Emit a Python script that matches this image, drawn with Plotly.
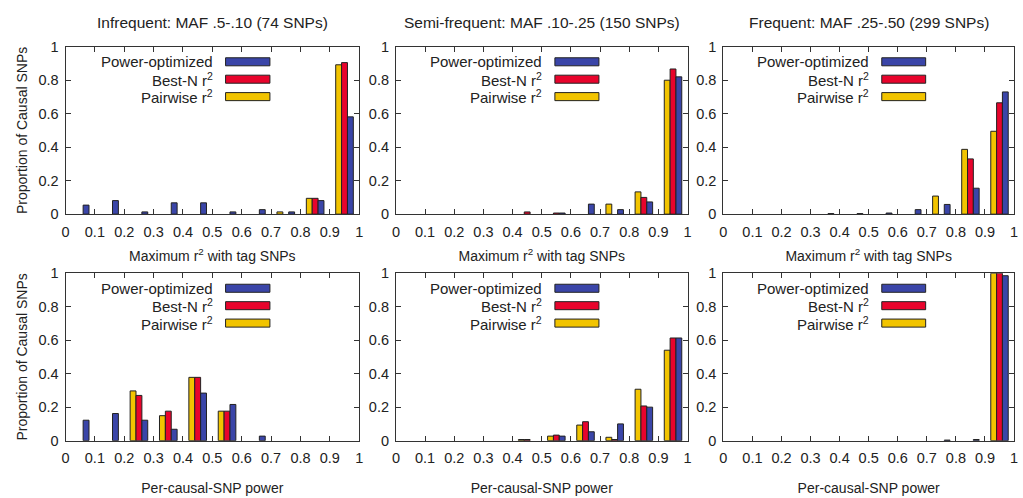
import plotly.graph_objects as go

# ---------------- data ----------------
bin_centers = [0.05, 0.15, 0.25, 0.35, 0.45, 0.55, 0.65, 0.75, 0.85, 0.95]
x_tick_vals = [0, 0.1, 0.2, 0.3, 0.4, 0.5, 0.6, 0.7, 0.8, 0.9, 1.0]
x_tick_text = ["0", "0.1", "0.2", "0.3", "0.4", "0.5", "0.6", "0.7", "0.8", "0.9", "1"]
y_tick_vals = [0, 0.2, 0.4, 0.6, 0.8, 1.0]
y_tick_text = ["0", "0.2", "0.4", "0.6", "0.8", "1"]

col_titles = ["Infrequent: MAF .5-.10 (74 SNPs)",
              "Semi-frequent: MAF .10-.25 (150 SNPs)",
              "Frequent: MAF .25-.50 (299 SNPs)"]
row_xtitles = ["Maximum r<sup>2</sup> with tag SNPs", "Per-causal-SNP power"]
y_title = "Proportion of Causal SNPs"
series_names = ["Pairwise r<sup>2</sup>", "Best-N r<sup>2</sup>", "Power-optimized"]

# Top row: maximum r^2 with tag SNPs
pairwise_top_inf = [0, 0, 0, 0, 0, 0, 0, 0.0135, 0.0946, 0.892]
bestn_top_inf = [0, 0, 0, 0, 0, 0, 0, 0, 0.0946, 0.905]
power_top_inf = [0.054, 0.081, 0.0135, 0.0676, 0.0676, 0.0135, 0.027, 0.0135, 0.081, 0.581]

pairwise_top_semi = [0, 0, 0, 0, 0, 0, 0, 0.06, 0.133, 0.80]
bestn_top_semi = [0, 0, 0, 0, 0.0133, 0.0067, 0, 0, 0.10, 0.867]
power_top_semi = [0, 0, 0, 0, 0, 0.0067, 0.06, 0.027, 0.073, 0.82]

pairwise_top_freq = [0, 0, 0, 0, 0, 0, 0, 0.108, 0.387, 0.495]
bestn_top_freq = [0, 0, 0, 0, 0, 0, 0, 0, 0.33, 0.665]
power_top_freq = [0, 0, 0, 0.0033, 0.0033, 0.0067, 0.027, 0.058, 0.155, 0.73]

# Bottom row: per-causal-SNP power
pairwise_bot_inf = [0, 0, 0.297, 0.149, 0.378, 0.176, 0, 0, 0, 0]
bestn_bot_inf = [0, 0, 0.27, 0.176, 0.378, 0.176, 0, 0, 0, 0]
power_bot_inf = [0.122, 0.162, 0.122, 0.068, 0.284, 0.216, 0.027, 0, 0, 0]

pairwise_bot_semi = [0, 0, 0, 0, 0.0067, 0.027, 0.093, 0.02, 0.307, 0.54]
bestn_bot_semi = [0, 0, 0, 0, 0.0067, 0.033, 0.113, 0.0067, 0.207, 0.613]
power_bot_semi = [0, 0, 0, 0, 0, 0.027, 0.053, 0.10, 0.20, 0.613]

pairwise_bot_freq = [0, 0, 0, 0, 0, 0, 0, 0, 0, 1.0]
bestn_bot_freq = [0, 0, 0, 0, 0, 0, 0, 0, 0, 1.0]
power_bot_freq = [0, 0, 0, 0, 0, 0, 0, 0.0033, 0.0067, 0.985]

panels = [
    [pairwise_top_inf, bestn_top_inf, power_top_inf],
    [pairwise_top_semi, bestn_top_semi, power_top_semi],
    [pairwise_top_freq, bestn_top_freq, power_top_freq],
    [pairwise_bot_inf, bestn_bot_inf, power_bot_inf],
    [pairwise_bot_semi, bestn_bot_semi, power_bot_semi],
    [pairwise_bot_freq, bestn_bot_freq, power_bot_freq],
]

# ---------------- style ----------------
W, H = 1023, 498
colors = ["#f2c400", "#e8042c", "#3a45a8"]   # pairwise, best-N, power-optimized
edge = "#222222"
axis_col = "#333333"
font_main = "Liberation Sans, Arial, Helvetica, sans-serif"
txt_col = "#222222"

col_px = [(62, 358), (395, 689), (725, 1018)]
row_px = [(40, 213), (274, 447)]
xtitle_standoff = [12, 18]

fig = go.Figure()
layout = dict(
    width=W, height=H,
    margin=dict(l=0, r=0, t=0, b=0),
    paper_bgcolor="white", plot_bgcolor="white",
    barmode="group", bargap=0.4, bargroupgap=0,
    showlegend=False,
    font=dict(family=font_main, size=14, color=txt_col),
)
annotations = []
shapes = []

for idx, series in enumerate(panels):
    r, c = divmod(idx, 3)
    n = idx + 1
    xa = "x" if n == 1 else f"x{n}"
    ya = "y" if n == 1 else f"y{n}"
    for k in range(3):
        vals = series[k]
        fig.add_trace(go.Bar(
            x=bin_centers, y=vals, name=series_names[k],
            marker=dict(color=colors[k],
                        line=dict(color=edge, width=[1 if v > 0 else 0 for v in vals])),
            xaxis=xa, yaxis=ya, offsetgroup=str(k),
        ))
    x0, x1 = col_px[c]
    y0, y1 = row_px[r]
    xdom = [x0 / W, x1 / W]
    ydom = [1 - y1 / H, 1 - y0 / H]
    xkey = "xaxis" if n == 1 else f"xaxis{n}"
    ykey = "yaxis" if n == 1 else f"yaxis{n}"
    layout[xkey] = dict(
        domain=xdom, anchor=ya, range=[0, 1],
        tickvals=x_tick_vals, ticktext=x_tick_text,
        ticks="inside", ticklen=5, tickcolor=axis_col, mirror="allticks",
        showline=True, linecolor=axis_col, linewidth=1,
        showgrid=False, zeroline=False, ticklabelstandoff=4,
        tickfont=dict(size=14.5, color=txt_col),
        title=dict(text=row_xtitles[r], font=dict(size=14, color=txt_col),
                   standoff=xtitle_standoff[r]),
    )
    layout[ykey] = dict(
        domain=ydom, anchor=xa, range=[0, 1],
        tickvals=y_tick_vals, ticktext=y_tick_text,
        ticks="inside", ticklen=5, tickcolor=axis_col, mirror="allticks",
        showline=True, linecolor=axis_col, linewidth=1,
        showgrid=False, zeroline=False, ticklabelstandoff=3,
        tickfont=dict(size=14.5, color=txt_col),
        title=dict(text=y_title if c == 0 else "", font=dict(size=14, color=txt_col), standoff=7),
    )
    # legend drawn inside each panel (text right-aligned, then swatch)
    xr = f"{xa} domain"
    yr = f"{ya} domain"
    legend_rows_y = [0.91, 0.806, 0.702]
    order = [2, 1, 0]
    for j, k in enumerate(order):
        yc = legend_rows_y[j]
        annotations.append(dict(
            x=0.508, y=yc, xref=xr, yref=yr, xanchor="right", yanchor="middle",
            text=series_names[k], showarrow=False,
            font=dict(size=15, color=txt_col, family=font_main),
        ))
        shapes.append(dict(
            type="rect", xref=xr, yref=yr,
            x0=0.545, x1=0.696, y0=yc - 0.024, y1=yc + 0.024,
            fillcolor=colors[k], line=dict(color=edge, width=1),
        ))
    if r == 0:
        annotations.append(dict(
            x=(xdom[0] + xdom[1]) / 2, y=1 - 15 / H, xref="paper", yref="paper",
            xanchor="center", yanchor="middle", text=col_titles[c], showarrow=False,
            font=dict(size=15.5, color=txt_col, family=font_main),
        ))

layout["annotations"] = annotations
layout["shapes"] = shapes
fig.update_layout(**layout)
fig.write_html("out.html")
